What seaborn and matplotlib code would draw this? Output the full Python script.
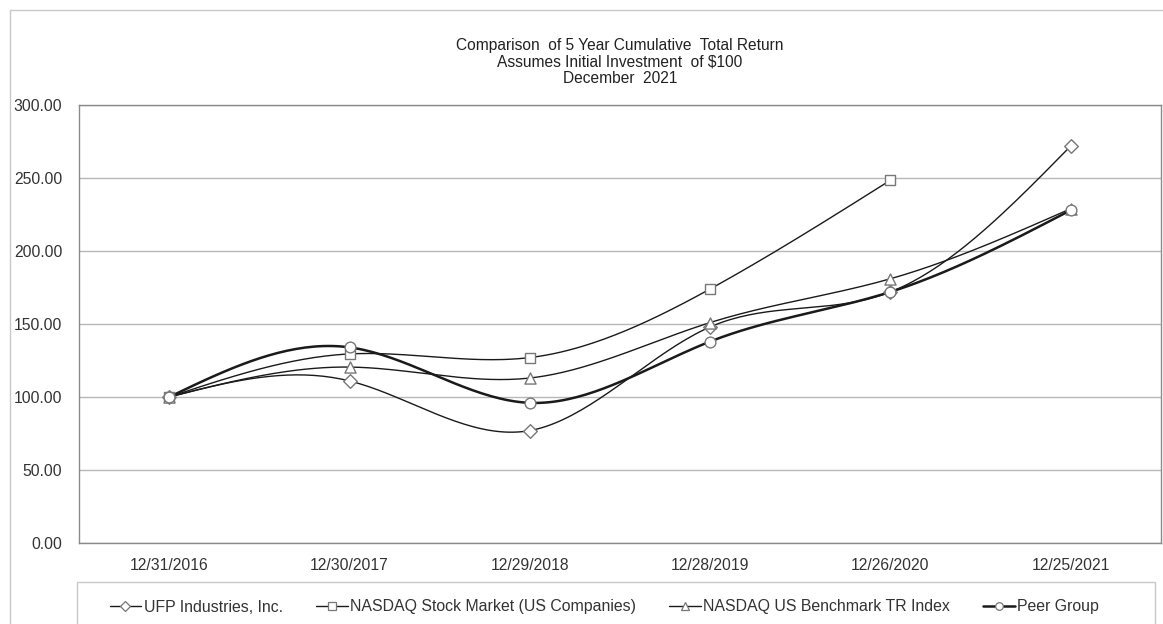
import numpy as np
import pandas as pd
import matplotlib
matplotlib.use("Agg")
import matplotlib.pyplot as plt
from matplotlib.lines import Line2D
from matplotlib.patches import Rectangle
import seaborn as sns

# ---- data ----
dates = ["12/31/2016", "12/30/2017", "12/29/2018", "12/28/2019", "12/26/2020", "12/25/2021"]
ufp = [100.00, 111.0, 77.0, 148.0, 172.0, 272.0]
nasdaq_market = [100.00, 129.5, 127.0, 174.0, 248.5, np.nan]
nasdaq_benchmark = [100.00, 120.5, 113.0, 151.0, 181.0, 229.0]
peer_group = [100.00, 134.0, 96.0, 138.0, 172.0, 228.0]

series_names = ["UFP Industries, Inc.", "NASDAQ Stock Market (US Companies)",
                "NASDAQ US Benchmark TR Index", "Peer Group"]
series_values = [ufp, nasdaq_market, nasdaq_benchmark, peer_group]
markers = ["D", "s", "^", "o"]
line_widths = [1.0, 1.0, 1.0, 1.8]
marker_sizes = [48, 60, 64, 60]

y_ticks = [0, 50, 100, 150, 200, 250, 300]


def natural_spline(x, y, n=200):
    """Natural cubic spline through the given points, sampled for drawing."""
    x = np.asarray(x, float)
    y = np.asarray(y, float)
    k = len(x)
    h = np.diff(x)
    A = np.zeros((k, k))
    b = np.zeros(k)
    A[0, 0] = A[-1, -1] = 1.0
    for i in range(1, k - 1):
        A[i, i - 1] = h[i - 1]
        A[i, i] = 2 * (h[i - 1] + h[i])
        A[i, i + 1] = h[i]
        b[i] = 6 * ((y[i + 1] - y[i]) / h[i] - (y[i] - y[i - 1]) / h[i - 1])
    M = np.linalg.solve(A, b)
    xs = np.linspace(x[0], x[-1], n)
    idx = np.clip(np.searchsorted(x, xs) - 1, 0, k - 2)
    x0, x1 = x[idx], x[idx + 1]
    hh = x1 - x0
    t0, t1 = x1 - xs, xs - x0
    ys = (M[idx] * t0 ** 3 + M[idx + 1] * t1 ** 3) / (6 * hh) \
        + (y[idx] / hh - M[idx] * hh / 6) * t0 \
        + (y[idx + 1] / hh - M[idx + 1] * hh / 6) * t1
    return xs, ys


sns.set_style("white")
plt.rcParams["font.family"] = ["Liberation Sans", "DejaVu Sans"]

W, H = 1163, 624
fig = plt.figure(figsize=(W / 100, H / 100), dpi=100)

# outer chart frame
fig.patches.append(Rectangle((10 / W, -0.05), 1.2, 1 - 10 / H + 0.05,
                             transform=fig.transFigure, fill=False,
                             edgecolor="#c8c8c8", linewidth=1.0, zorder=0))
# legend frame
fig.patches.append(Rectangle((77 / W, -0.05), (1155 - 77) / W, 1 - 582 / H + 0.05,
                             transform=fig.transFigure, fill=False,
                             edgecolor="#c8c8c8", linewidth=1.0, zorder=0))

left, right, top, bottom = 79, 1161, 105, 543
ax = fig.add_axes([left / W, 1 - bottom / H, (right - left) / W, (bottom - top) / H])

xpos = np.arange(len(dates))
for name, vals, m, lw, ms in zip(series_names, series_values, markers, line_widths, marker_sizes):
    df = pd.DataFrame({"x": xpos, "y": vals}).dropna()
    xs, ys = natural_spline(df["x"], df["y"])
    ax.plot(xs, ys, color="#1a1a1a", linewidth=lw, zorder=3, solid_capstyle="round")
    sns.scatterplot(data=df, x="x", y="y", marker=m, s=ms, color="white",
                    edgecolor="#777777", linewidth=1.0, zorder=4, ax=ax, legend=False)

ax.set_xlim(-0.5, len(dates) - 0.5)
ax.set_ylim(0, 300)
ax.set_yticks(y_ticks)
ax.set_yticklabels([f"{v:.2f}" for v in y_ticks])
ax.set_xticks(xpos)
ax.set_xticklabels(dates)
ax.set_xlabel("")
ax.set_ylabel("")
ax.grid(axis="y", color="#b8b8b8", linewidth=1.0, zorder=0)
ax.set_axisbelow(True)
for sp in ax.spines.values():
    sp.set_color("#8a8a8a")
    sp.set_linewidth(1.0)
ax.tick_params(axis="y", direction="out", length=6, width=1, color="#8a8a8a",
               labelsize=11.3, labelcolor="#333333", pad=6)
ax.tick_params(axis="x", direction="in", length=4, width=1, color="#c0c0c0",
               labelsize=11.3, labelcolor="#333333", pad=11)

fig.text(0.5 * (left + right) / W + 0.0, 1 - 62 / H,
         "Comparison  of 5 Year Cumulative  Total Return\n"
         "Assumes Initial Investment  of $100\n"
         "December  2021",
         ha="center", va="center", fontsize=11.2, color="#222222", linespacing=1.12)

handles = [Line2D([], [], color="#1a1a1a", linewidth=lw, marker=m, markersize=5.5,
                  markerfacecolor="white", markeredgecolor="#777777", markeredgewidth=0.9)
           for m, lw in zip(markers, line_widths)]
fig.legend(handles, series_names, loc="center", bbox_to_anchor=(604.5 / W, 1 - 607 / H),
           ncol=4, frameon=False, fontsize=11.4, handlelength=2.0, handletextpad=0.15,
           columnspacing=2.1, labelcolor="#333333")

fig.savefig("out.png", dpi=100)
